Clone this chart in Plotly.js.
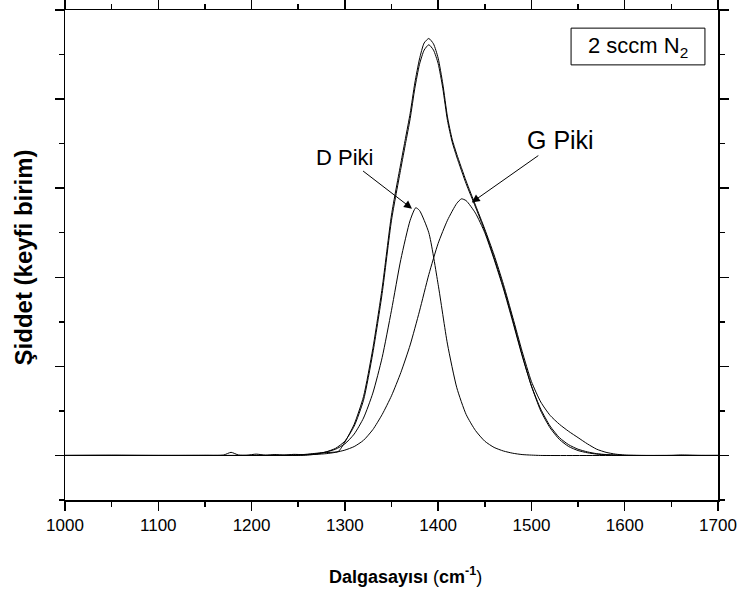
<!DOCTYPE html>
<html>
<head>
<meta charset="utf-8">
<script src="https://cdn.plot.ly/plotly-3.0.1.min.js"></script>
<style>html,body{margin:0;padding:0;background:#fff;}#chart{width:743px;height:594px;}</style>
</head>
<body>
<div id="chart"></div>
<script>
// Wavenumber (cm^-1) grids and intensities (arbitrary units)
const xMeasured = [1000, 1050, 1100, 1150, 1170, 1178, 1186, 1195, 1205, 1215, 1225, 1235, 1245, 1255, 1265, 1275, 1285, 1293, 1300, 1310, 1320, 1330, 1340, 1350, 1360, 1365, 1370, 1375, 1380, 1385, 1390, 1395, 1400, 1405, 1410, 1415, 1420, 1430, 1440, 1450, 1460, 1470, 1480, 1490, 1500, 1510, 1520, 1530, 1540, 1550, 1560, 1570, 1580, 1590, 1600, 1620, 1650, 1660, 1680, 1700];
const yMeasured = [0, 0.003, 0, 0.002, 0.005, 0.035, 0.005, 0.003, 0.015, 0.003, 0.01, 0.004, 0.012, 0.01, 0.02, 0.03, 0.035, 0.045, 0.15, 0.35, 0.66, 1.2, 1.88, 2.7, 3.28, 3.56, 3.84, 4.18, 4.45, 4.63, 4.68, 4.62, 4.46, 4.17, 3.8, 3.55, 3.38, 3.08, 2.81, 2.54, 2.25, 1.92, 1.55, 1.17, 0.83, 0.6, 0.45, 0.35, 0.27, 0.2, 0.13, 0.07, 0.035, 0.015, 0.005, 0, 0, 0.005, 0, 0];

const xFit = [1000, 1100, 1200, 1250, 1260, 1270, 1280, 1290, 1300, 1310, 1320, 1330, 1340, 1350, 1360, 1365, 1370, 1375, 1380, 1385, 1390, 1395, 1400, 1405, 1410, 1415, 1420, 1430, 1440, 1450, 1460, 1470, 1480, 1490, 1500, 1510, 1520, 1530, 1540, 1550, 1560, 1570, 1580, 1590, 1600, 1650, 1700];
const yFit = [0, 0, 0, 0, 0.005, 0.015, 0.04, 0.08, 0.16, 0.33, 0.62, 1.15, 1.82, 2.64, 3.22, 3.5, 3.78, 4.12, 4.39, 4.55, 4.61, 4.55, 4.4, 4.12, 3.76, 3.52, 3.35, 3.05, 2.79, 2.52, 2.22, 1.89, 1.52, 1.13, 0.78, 0.52, 0.33, 0.2, 0.12, 0.07, 0.04, 0.02, 0.01, 0.005, 0, 0, 0];

const xDPeak = [1000, 1100, 1200, 1250, 1260, 1270, 1280, 1290, 1300, 1310, 1320, 1330, 1340, 1350, 1360, 1370, 1376, 1380, 1390, 1400, 1410, 1420, 1430, 1440, 1450, 1460, 1470, 1480, 1490, 1500, 1510, 1600, 1700];
const yDPeak = [0, 0, 0, 0.005, 0.01, 0.02, 0.04, 0.07, 0.13, 0.24, 0.42, 0.7, 1.1, 1.63, 2.2, 2.64, 2.78, 2.75, 2.5, 1.92, 1.25, 0.76, 0.46, 0.28, 0.16, 0.09, 0.05, 0.025, 0.01, 0.004, 0, 0, 0];

const xGPeak = [1000, 1100, 1200, 1250, 1260, 1270, 1280, 1290, 1300, 1310, 1320, 1330, 1340, 1350, 1360, 1370, 1380, 1390, 1400, 1410, 1420, 1425, 1430, 1440, 1450, 1460, 1470, 1480, 1490, 1500, 1510, 1520, 1530, 1540, 1550, 1560, 1570, 1580, 1590, 1600, 1650, 1700];
const yGPeak = [0, 0, 0, 0.004, 0.008, 0.013, 0.02, 0.035, 0.06, 0.1, 0.17, 0.29, 0.46, 0.67, 0.93, 1.24, 1.62, 2.03, 2.38, 2.64, 2.83, 2.88, 2.86, 2.72, 2.5, 2.2, 1.87, 1.5, 1.12, 0.78, 0.5, 0.31, 0.18, 0.1, 0.055, 0.03, 0.015, 0.007, 0.003, 0, 0, 0];

const xTickVals = [1000, 1100, 1200, 1300, 1400, 1500, 1600, 1700];
const xTickText = ['1000', '1100', '1200', '1300', '1400', '1500', '1600', '1700'];

const FONT = 'Liberation Sans, Arial, sans-serif';
const lineStyle = {color: '#000', width: 1, shape: 'spline', smoothing: 0.6};

const traces = [
  {x: xMeasured, y: yMeasured, mode: 'lines', line: lineStyle, name: 'measured'},
  {x: xFit, y: yFit, mode: 'lines', line: lineStyle, name: 'fit'},
  {x: xDPeak, y: yDPeak, mode: 'lines', line: lineStyle, name: 'D'},
  {x: xGPeak, y: yGPeak, mode: 'lines', line: lineStyle, name: 'G'}
];

const axisCommon = {
  showline: true, linecolor: '#000', linewidth: 1.5, mirror: 'ticks',
  ticks: 'outside', tickcolor: '#000', tickwidth: 1.5, ticklen: 9,
  showgrid: false, zeroline: false
};

const layout = {
  width: 743, height: 594,
  margin: {l: 65, r: 25, t: 10, b: 94},
  paper_bgcolor: '#fff', plot_bgcolor: '#fff',
  showlegend: false,
  font: {family: FONT, color: '#000'},
  xaxis: Object.assign({}, axisCommon, {
    range: [1000, 1700], tickmode: 'array', tickvals: xTickVals, ticktext: xTickText,
    tickfont: {size: 17, family: FONT},
    minor: {dtick: 50, ticks: 'outside', ticklen: 5, tickcolor: '#000', tickwidth: 1.5}
  }),
  yaxis: Object.assign({}, axisCommon, {
    range: [-0.5, 5], tick0: 0, dtick: 1, showticklabels: false,
    minor: {dtick: 0.5, tick0: 0, ticks: 'outside', ticklen: 5, tickcolor: '#000', tickwidth: 1.5}
  }),
  shapes: [
    {type: 'rect', xref: 'paper', yref: 'paper', x0: 0.775, x1: 0.980, y0: 0.888, y1: 0.963,
     line: {color: '#000', width: 1}, fillcolor: 'rgba(0,0,0,0)'}
  ],
  annotations: [
    {xref: 'paper', yref: 'paper', x: 0.8775, y: 0.9255, xanchor: 'center', yanchor: 'middle', showarrow: false,
     text: '2 sccm N<sub>2</sub>', font: {size: 22, family: FONT}},
    {x: 1372, y: 2.77, xref: 'x', yref: 'y', ax: 1300, ay: 3.35, axref: 'x', ayref: 'y',
     text: 'D Piki', showarrow: true, arrowhead: 2, arrowsize: 1.6, arrowwidth: 1, arrowcolor: '#000',
     font: {size: 22, family: FONT}},
    {x: 1436, y: 2.84, xref: 'x', yref: 'y', ax: 1531, ay: 3.54, axref: 'x', ayref: 'y',
     text: 'G Piki', showarrow: true, arrowhead: 2, arrowsize: 1.6, arrowwidth: 1, arrowcolor: '#000',
     font: {size: 25, family: FONT}},
    {xref: 'paper', yref: 'paper', x: 0.5207, y: 0, yshift: -75, xanchor: 'center', yanchor: 'middle', showarrow: false,
     text: '<b>Dalgasayısı</b> (<b>cm</b><sup><b>-1</b></sup>)', font: {size: 18, family: FONT}},
    {xref: 'paper', yref: 'paper', x: 0, y: 0.495, xshift: -42, xanchor: 'center', yanchor: 'middle', showarrow: false, textangle: -90,
     text: '<b>Şiddet (keyfi birim)</b>', font: {size: 24, family: FONT}}
  ]
};

Plotly.newPlot('chart', traces, layout, {displayModeBar: false, staticPlot: true});
</script>
</body>
</html>
